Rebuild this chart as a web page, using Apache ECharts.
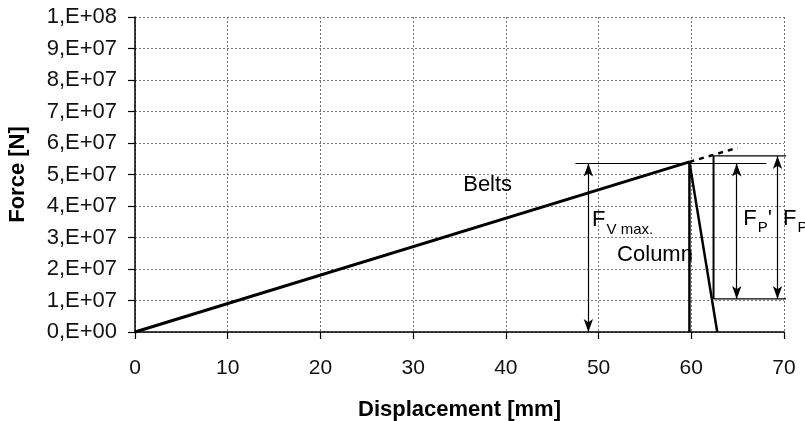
<!DOCTYPE html>
<html>
<head>
<meta charset="utf-8">
<script src="https://cdn.jsdelivr.net/npm/echarts@6/dist/echarts.min.js"></script>
<style>
  html, body { margin: 0; padding: 0; background: #fff; }
  #chart { width: 805px; height: 421px; }
</style>
</head>
<body>
<div id="chart"></div>
<script>
// 数据
var belts = [[0, 0], [59.8, 5.4e7]];
var beltsExt = [[59.8, 5.4e7], [65, 5.85e7]];
var column = [[59.8, 0], [59.8, 5.4e7], [62.8, 0]];
var vmaxLine = [[47.5, 5.35e7], [68.1, 5.35e7]];
var boxTop = [[62.4, 5.59e7], [70.3, 5.59e7]];
var boxSide = [[62.4, 5.59e7], [62.4, 1.05e7]];
var boxBottom = [[62.4, 1.05e7], [70.3, 1.05e7]];
var arrows = [
    [[48.9, 0], [48.9, 5.35e7]],
    [[64.9, 1.05e7], [64.9, 5.35e7]],
    [[69.3, 1.05e7], [69.3, 5.59e7]]
];
var notes = [
    { name: 'Belts', value: [35.4, 4.67e7] },
    { name: 'Column', value: [52.0, 2.44e7] },
    { name: 'vmax', value: [49.3, 3.55e7] },
    { name: 'fp2', value: [65.6, 3.6e7] },
    { name: 'fp', value: [69.9, 3.6e7] }
];

var FONT = 'Liberation Sans, Arial, sans-serif';

function yFmt(v) {
    if (v === 0) return '0,E+00';
    if (v >= 1e8) return '1,E+08';
    return Math.round(v / 1e7) + ',E+07';
}

function seg(data, w, dashed) {
    return {
        type: 'line',
        data: data,
        symbol: 'none',
        silent: true,
        animation: false,
        lineStyle: { color: '#000', width: w, type: dashed ? [5, 5] : 'solid' },
        z: 5
    };
}

function noteLabel(p) {
    switch (p.name) {
        case 'Belts': return '{t|Belts}';
        case 'Column': return '{t|Column}';
        case 'vmax': return '{big|F}{sub|V max.}';
        case 'fp2': return '{big|F}{sub|P}{t|\'}';
        case 'fp': return '{big|F}{sub|P}';
    }
    return '';
}

var chart = echarts.init(document.getElementById('chart'));

var series = [
    seg(belts, 3),
    seg(beltsExt, 2.5, true),
    seg(column, 2.5),
    seg(vmaxLine, 1.2),
    seg(boxTop, 1.2),
    seg(boxSide, 2),
    seg(boxBottom, 1.2),
    {
        type: 'line',
        data: [],
        silent: true,
        animation: false,
        markLine: {
            silent: true,
            animation: false,
            symbol: ['arrow', 'arrow'],
            symbolSize: [7, 13],
            label: { show: false },
            lineStyle: { color: '#000', width: 1.2, type: 'solid' },
            data: arrows.map(function (a) {
                return [{ coord: a[0] }, { coord: a[1] }];
            })
        }
    },
    {
        type: 'scatter',
        data: notes,
        symbolSize: 0,
        silent: true,
        animation: false,
        itemStyle: { opacity: 1 },
        label: {
            show: true,
            position: 'inside',
            align: 'left',
            color: '#000',
            opacity: 1,
            textBorderWidth: 0,
            formatter: noteLabel,
            rich: {
                t: { fontFamily: FONT, fontSize: 22, color: '#000', verticalAlign: 'bottom', textBorderWidth: 0 },
                big: { fontFamily: FONT, fontSize: 22, color: '#000', verticalAlign: 'bottom', textBorderWidth: 0 },
                sub: { fontFamily: FONT, fontSize: 15, color: '#000', verticalAlign: 'bottom', padding: [0, 0, -6, 1], textBorderWidth: 0 }
            }
        },
        z: 10
    }
];

var option = {
    backgroundColor: '#fff',
    animation: false,
    grid: { left: 135, right: 21, top: 17, bottom: 89, outerBoundsMode: 'none', containLabel: false },
    xAxis: {
        type: 'value',
        min: 0,
        max: 70,
        interval: 10,
        name: 'Displacement [mm]',
        nameLocation: 'middle',
        nameGap: 67,
        nameTextStyle: { fontFamily: FONT, fontSize: 22, fontWeight: 'bold', color: '#000', letterSpacing: 1.2 },
        axisLine: { show: true, onZero: false, lineStyle: { color: '#000', width: 1.5 } },
        axisTick: { show: true, inside: false, length: 7, lineStyle: { color: '#000', width: 1.2 } },
        axisLabel: { fontFamily: FONT, fontSize: 21, color: '#111', margin: 26 },
        splitLine: { show: true, lineStyle: { color: '#777', width: 1, type: [2, 2] } }
    },
    yAxis: {
        type: 'value',
        min: 0,
        max: 1e8,
        interval: 1e7,
        name: 'Force [N]',
        nameLocation: 'middle',
        nameGap: 106,
        nameRotate: 90,
        nameTextStyle: { fontFamily: FONT, fontSize: 22, fontWeight: 'bold', color: '#000' },
        axisLine: { show: true, onZero: false, lineStyle: { color: '#000', width: 1.5 } },
        axisTick: { show: true, inside: false, length: 7, lineStyle: { color: '#000', width: 1.2 } },
        axisLabel: { fontFamily: FONT, fontSize: 22, color: '#111', margin: 18, formatter: yFmt },
        splitLine: { show: true, lineStyle: { color: '#777', width: 1, type: [2, 2] } }
    },
    series: series
};

chart.setOption(option);
</script>
</body>
</html>
